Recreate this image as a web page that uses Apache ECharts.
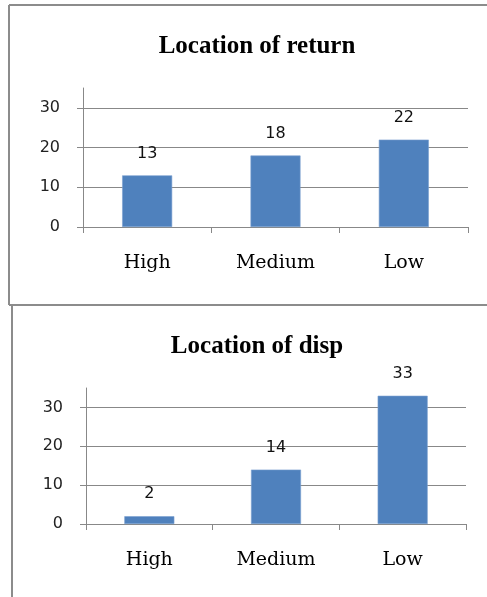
<!DOCTYPE html>
<html>
<head>
<meta charset="utf-8">
<script src="https://cdn.jsdelivr.net/npm/echarts@6/dist/echarts.min.js"></script>
<style>
  html, body { margin: 0; padding: 0; background: #fff; }
  #chart { width: 487px; height: 597px; }
</style>
</head>
<body>
<div id="chart"></div>
<script>
// Two small bar charts: where returns and dispositions were located
const categories = ['High', 'Medium', 'Low'];
const returnValues = [13, 18, 22];
const dispValues = [2, 14, 33];
const yTicks = [0, 10, 20, 30];
const titles = ['Location of return', 'Location of disp'];

const BAR_COLOR = '#4F81BD';
const AXIS_COLOR = '#888888';
const FRAME_COLOR = '#8c8c8c';

const chart = echarts.init(document.getElementById('chart'), null, { renderer: 'canvas' });

function xAxis(gridIndex) {
  return {
    type: 'category',
    gridIndex,
    data: categories,
    axisLine: { lineStyle: { color: AXIS_COLOR, width: 1 } },
    axisTick: { show: true, length: 6, lineStyle: { color: AXIS_COLOR } },
    axisLabel: {
      margin: 27,
      color: '#000',
      fontFamily: 'DejaVu Serif',
      fontSize: 19
    },
    splitLine: { show: false }
  };
}

function yAxis(gridIndex) {
  return {
    type: 'value',
    gridIndex,
    min: 0,
    max: 35,
    interval: 10,
    axisLine: { show: true, lineStyle: { color: AXIS_COLOR, width: 1 } },
    axisTick: { show: true, length: 6, customValues: yTicks, lineStyle: { color: AXIS_COLOR } },
    axisLabel: {
      customValues: yTicks,
      margin: 23,
      color: '#222',
      fontFamily: 'DejaVu Sans',
      fontSize: 16
    },
    splitLine: { show: true, showMaxLine: true, lineStyle: { color: AXIS_COLOR, width: 1 } }
  };
}

function barSeries(idx, values) {
  return {
    type: 'bar',
    xAxisIndex: idx,
    yAxisIndex: idx,
    data: values,
    barWidth: 50,
    itemStyle: { color: BAR_COLOR, borderColor: '#7a9fd0', borderWidth: 0.6 },
    label: {
      show: true,
      position: 'top',
      distance: 14,
      color: '#111',
      fontFamily: 'DejaVu Sans',
      fontSize: 16
    }
  };
}

function titleAt(text, top) {
  return {
    text,
    left: 252,
    top,
    textAlign: 'center',
    textStyle: {
      fontFamily: 'Liberation Serif',
      fontWeight: 'bold',
      fontSize: 25,
      color: '#000'
    }
  };
}

const option = {
  animation: false,
  backgroundColor: '#fff',
  title: [titleAt(titles[0], 29), titleAt(titles[1], 329)],
  grid: [
    { left: 83, right: 19, top: 88, height: 139 },
    { left: 86, right: 21, top: 388, height: 136 }
  ],
  xAxis: [xAxis(0), xAxis(1)],
  yAxis: [yAxis(0), yAxis(1)],
  series: [barSeries(0, returnValues), barSeries(1, dispValues)],
  graphic: [
    { type: 'line', shape: { x1: 9, y1: 5, x2: 487, y2: 5 }, style: { stroke: FRAME_COLOR, lineWidth: 2 } },
    { type: 'line', shape: { x1: 9, y1: 5, x2: 9, y2: 305 }, style: { stroke: FRAME_COLOR, lineWidth: 2 } },
    { type: 'line', shape: { x1: 9, y1: 305, x2: 487, y2: 305 }, style: { stroke: FRAME_COLOR, lineWidth: 2 } },
    { type: 'line', shape: { x1: 12, y1: 305, x2: 12, y2: 597 }, style: { stroke: FRAME_COLOR, lineWidth: 2 } }
  ]
};

chart.setOption(option);
</script>
</body>
</html>
